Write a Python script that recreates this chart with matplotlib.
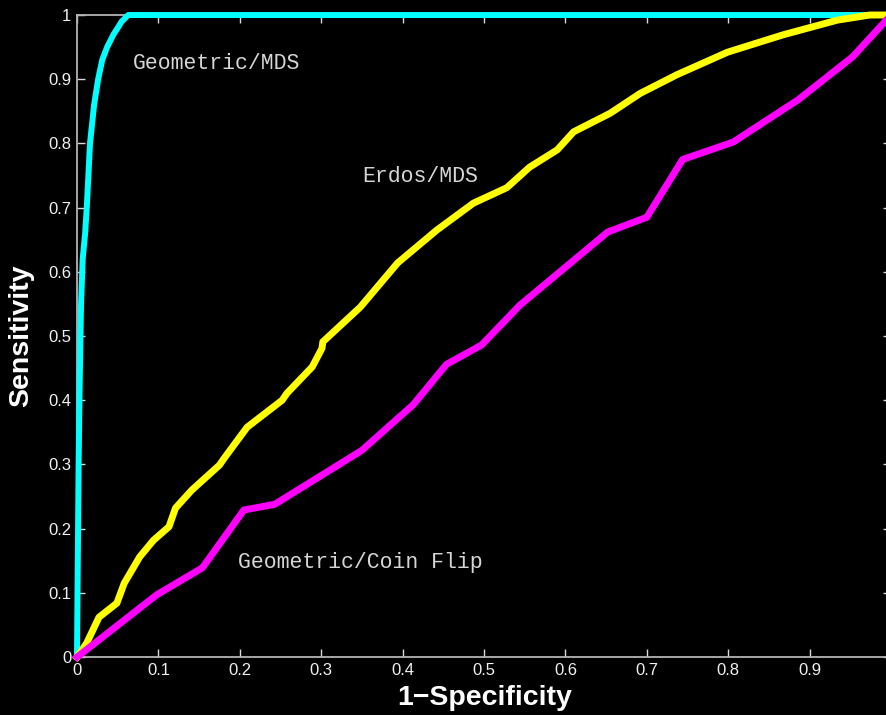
import matplotlib
matplotlib.use("Agg")
import matplotlib.pyplot as plt

# ROC curves: false positive rate (1-specificity) vs. true positive rate
geo_mds_fpr = [0.0, 0.001, 0.002, 0.003, 0.004, 0.005, 0.007, 0.010, 0.012, 0.016,
               0.021, 0.026, 0.031, 0.037, 0.045, 0.055, 0.063, 0.080, 1.0]
geo_mds_tpr = [0.0, 0.15, 0.30, 0.40, 0.48, 0.55, 0.62, 0.66, 0.70, 0.80,
               0.86, 0.90, 0.93, 0.95, 0.97, 0.99, 1.0, 1.0, 1.0]

erdos_fpr = [0.0, 0.012, 0.027, 0.049, 0.058, 0.077, 0.094, 0.113, 0.121, 0.141,
             0.175, 0.181, 0.209, 0.252, 0.258, 0.289, 0.301, 0.302, 0.348, 0.394,
             0.442, 0.487, 0.528, 0.556, 0.590, 0.610, 0.655, 0.692, 0.737, 0.799,
             0.867, 0.934, 0.974, 1.0]
erdos_tpr = [0.0, 0.022, 0.062, 0.084, 0.115, 0.156, 0.182, 0.203, 0.232, 0.260,
             0.299, 0.310, 0.358, 0.400, 0.411, 0.452, 0.481, 0.491, 0.545, 0.614,
             0.665, 0.707, 0.731, 0.763, 0.790, 0.818, 0.847, 0.878, 0.907, 0.942,
             0.969, 0.992, 1.0, 1.0]

coin_fpr = [0.0, 0.098, 0.154, 0.205, 0.243, 0.350, 0.413, 0.454, 0.497, 0.544,
            0.652, 0.700, 0.744, 0.806, 0.886, 0.953, 1.0]
coin_tpr = [0.0, 0.097, 0.139, 0.229, 0.238, 0.322, 0.393, 0.456, 0.486, 0.548,
            0.662, 0.685, 0.775, 0.802, 0.868, 0.935, 1.0]

tick_vals = [0, 0.1, 0.2, 0.3, 0.4, 0.5, 0.6, 0.7, 0.8, 0.9, 1]
tick_text = ["0", "0.1", "0.2", "0.3", "0.4", "0.5", "0.6", "0.7", "0.8", "0.9", "1"]

fig = plt.figure(figsize=(8.87, 7.15), dpi=100, facecolor="black")
ax = fig.add_axes([0.0868, 0.081, 0.9177, 0.898], facecolor="black")

ax.plot(geo_mds_fpr, geo_mds_tpr, color="#00ffff", lw=4.3, clip_on=False,
        solid_joinstyle="round", zorder=3)
ax.plot(erdos_fpr, erdos_tpr, color="#ffff00", lw=5.0, clip_on=False,
        solid_joinstyle="round", zorder=4)
ax.plot(coin_fpr, coin_tpr, color="#ff00ff", lw=5.0, clip_on=False,
        solid_joinstyle="round", zorder=5)

ax.set_xlim(0, 1)
ax.set_ylim(0, 1)
ax.set_xticks(tick_vals)
ax.set_xticklabels(tick_text)
ax.set_yticks(tick_vals)
ax.set_yticklabels(tick_text)

for side in ["left", "right", "top", "bottom"]:
    ax.spines[side].set_color("#b4b4b4")
    ax.spines[side].set_linewidth(1.3)
ax.tick_params(axis="both", direction="in", length=5.8, width=1.0,
               colors="#d8d8d8", labelcolor="#f0f0f0", labelsize=12,
               top=True, right=True, pad=4)
for lab in ax.get_xticklabels() + ax.get_yticklabels():
    lab.set_family(["Liberation Sans", "DejaVu Sans"])

ax.set_xlabel("1\u2212Specificity", fontsize=20.5, fontweight="bold",
              color="white", family=["Liberation Sans", "DejaVu Sans"])
ax.set_ylabel("Sensitivity", fontsize=20.5, fontweight="bold",
              color="white", family=["Liberation Sans", "DejaVu Sans"])
ax.xaxis.set_label_coords(0.501, -0.043)
ax.yaxis.set_label_coords(-0.052, 0.5)

note_style = dict(fontsize=15.5, color="#d6d6d6", va="center", ha="left",
                  family=["Liberation Mono", "DejaVu Sans Mono"], zorder=6)
ax.text(0.069, 0.925, "Geometric/MDS", **note_style)
ax.text(0.350, 0.749, "Erdos/MDS", **note_style)
ax.text(0.198, 0.148, "Geometric/Coin Flip", **note_style)

fig.savefig("out.png", dpi=100, facecolor="black")
